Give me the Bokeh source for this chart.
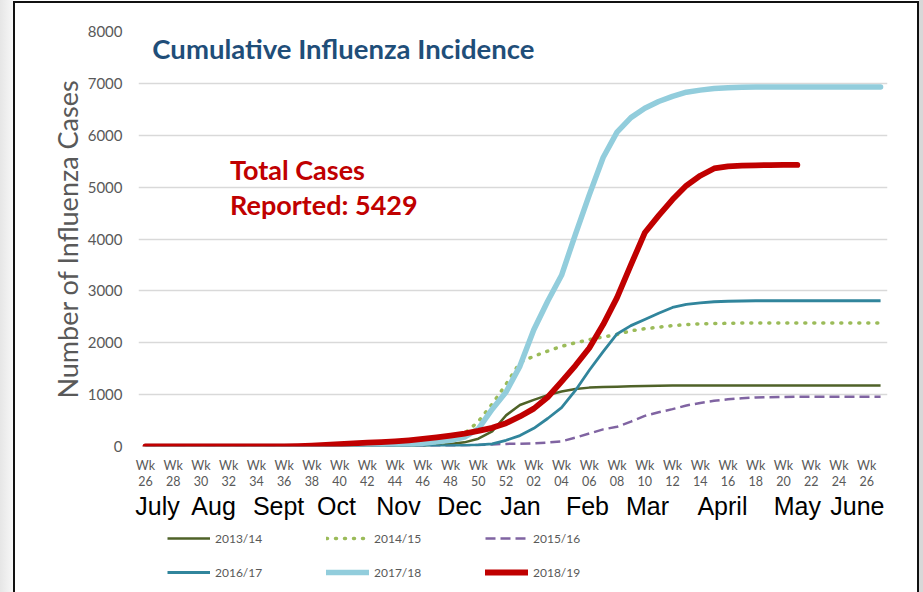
from bokeh.plotting import figure
from bokeh.models import (Range1d, FixedTicker, LinearAxis, Label, Legend,
                          LegendItem)
from bokeh.layouts import column
from bokeh.embed import file_html
from bokeh.resources import INLINE

# ---------------- data ----------------
weeks = list(range(54))  # week index from Wk 26 (season start)

s2013_14 = [0]*18 + [5, 10, 20, 35, 50, 80, 150, 290, 600, 800, 900, 990, 1060,
                     1110, 1135, 1145, 1150, 1160, 1165, 1170] + [1175]*16
s2014_15 = [0]*20 + [20, 50, 110, 250, 480, 820, 1200, 1620, 1740, 1840, 1930,
                     2000, 2060, 2110, 2160, 2230, 2270, 2300, 2330, 2350, 2365,
                     2370, 2375] + [2380]*11
s2015_16 = [0]*22 + [10, 20, 30, 40, 50, 55, 60, 75, 100, 170, 250, 330, 380,
                     480, 590, 660, 720, 790, 840, 880, 910, 930, 945, 950,
                     955] + [960]*7
s2016_17 = [0]*19 + [5, 8, 10, 15, 20, 30, 50, 120, 210, 350, 540, 750, 1080,
                     1470, 1830, 2170, 2330, 2450, 2570, 2680, 2740, 2770, 2790,
                     2800, 2805] + [2810]*10
s2017_18 = [0]*17 + [10, 20, 40, 60, 90, 120, 180, 340, 720, 1050, 1550, 2250,
                     2800, 3300, 4090, 4850, 5570, 6060, 6340, 6520, 6650, 6750,
                     6830, 6870, 6900, 6915, 6925] + [6930]*10
s2018_19 = [0]*11 + [5, 15, 30, 45, 60, 75, 85, 100, 120, 145, 175, 210, 250,
                     300, 360, 450, 580, 730, 950, 1250, 1560, 1900, 2350, 2870,
                     3500, 4120, 4450, 4760, 5030, 5220, 5360, 5400, 5415, 5420,
                     5425, 5428, 5429]

season_labels = ["2013/14", "2014/15", "2015/16", "2016/17", "2017/18", "2018/19"]
season_values = [s2013_14, s2014_15, s2015_16, s2016_17, s2017_18, s2018_19]

wk_pos = list(range(0, 53, 2))
wk_labels = ["26", "28", "30", "32", "34", "36", "38", "40", "42", "44", "46",
             "48", "50", "52", "02", "04", "06", "08", "10", "12", "14", "16",
             "18", "20", "22", "24", "26"]

month_pos = [0.87, 4.91, 9.6, 13.77, 18.24, 22.65, 27.04, 31.87, 36.2, 41.6,
             47.0, 51.33]
month_labels = ["July", "Aug", "Sept", "Oct", "Nov", "Dec", "Jan", "Feb", "Mar",
                "April", "May", "June"]

y_ticks = [0, 1000, 2000, 3000, 4000, 5000, 6000, 7000, 8000]

# line styles (per season)
styles = [
    dict(line_color="#4F6228", line_width=2.5, line_join="round"),
    dict(line_color="#9BBB59", line_width=3.5, line_dash="1 8",
         line_cap="round", line_join="round"),
    dict(line_color="#8064A2", line_width=2.5, line_dash="10 5"),
    dict(line_color="#31859C", line_width=2.8, line_join="round"),
    dict(line_color="#92CDDC", line_width=5.5, line_cap="round",
         line_join="round"),
    dict(line_color="#C00000", line_width=5.8, line_cap="round",
         line_join="round"),
]

# ---------------- main figure ----------------
p = figure(width=923, height=525, output_backend="svg", toolbar_location=None,
           x_range=Range1d(-0.5, 53.5), y_range=Range1d(0, 8000),
           min_border_left=138, min_border_right=36, min_border_top=31,
           min_border_bottom=79)
p.outline_line_color = None
p.background_fill_color = "white"
p.border_fill_alpha = 0

# grid
p.xgrid.grid_line_color = None
p.ygrid.grid_line_color = "#D9D9D9"
p.ygrid.grid_line_width = 1.3

# y axis
p.yaxis.ticker = FixedTicker(ticks=y_ticks)
p.yaxis.axis_line_color = None
p.yaxis.major_tick_line_color = None
p.yaxis.minor_tick_line_color = None
p.yaxis.major_label_text_font = "Lato"
p.yaxis.major_label_text_font_size = "15px"
p.yaxis.major_label_text_color = "#595959"
p.yaxis.major_label_standoff = 10
p.yaxis.axis_label = "Number of Influenza Cases"
p.yaxis.axis_label_text_font = "Lato"
p.yaxis.axis_label_text_font_size = "27px"
p.yaxis.axis_label_text_font_style = "normal"
p.yaxis.axis_label_text_color = "#595959"
p.yaxis.axis_label_standoff = 1

# x axis (weeks)
xa = p.xaxis[0]
xa.ticker = FixedTicker(ticks=wk_pos)
xa.major_label_overrides = {pos: "Wk\n" + lab for pos, lab in zip(wk_pos, wk_labels)}
xa.axis_line_color = None
xa.major_tick_line_color = None
xa.minor_tick_line_color = None
xa.major_label_text_font = "Lato"
xa.major_label_text_font_size = "12.5px"
xa.major_label_text_color = "#595959"
xa.major_label_text_line_height = 1.1
xa.major_label_standoff = 5

# month axis
ma = LinearAxis(ticker=FixedTicker(ticks=month_pos),
                major_label_overrides={pos: lab for pos, lab in zip(month_pos, month_labels)})
ma.axis_line_color = None
ma.major_tick_line_color = None
ma.minor_tick_line_color = None
ma.major_label_text_font = "Liberation Sans"
ma.major_label_text_font_size = "25px"
ma.major_label_text_color = "#000000"
ma.major_label_standoff = -7
p.add_layout(ma, "below")

# ---------------- series ----------------
for vals, st in zip(season_values, styles):
    p.line(weeks[:len(vals)], vals, **st)

# ---------------- texts ----------------
p.add_layout(Label(x=0.5, y=7680, text="Cumulative Influenza Incidence",
                   text_font="Lato", text_font_style="bold",
                   text_font_size="27.5px", text_color="#1F4E79",
                   text_baseline="middle"))
p.add_layout(Label(x=6.1, y=5340, text="Total Cases",
                   text_font="Lato", text_font_style="bold",
                   text_font_size="27px", text_color="#C00000",
                   text_baseline="middle"))
p.add_layout(Label(x=6.1, y=4665, text="Reported: %d" % s2018_19[-1],
                   text_font="Lato", text_font_style="bold",
                   text_font_size="27px", text_color="#C00000",
                   text_baseline="middle"))

# ---------------- legend strip (own small figure) ----------------
# same series drawn again, but the y range is chosen so that the lines lie
# outside this strip; only the legend entries show.
lg = figure(width=923, height=67, output_backend="svg", toolbar_location=None,
            x_axis_location=None, y_axis_location=None,
            x_range=Range1d(-0.5, 53.5), y_range=Range1d(-20000, -10000),
            min_border_left=0, min_border_right=0, min_border_top=0,
            min_border_bottom=0)
lg.outline_line_color = None
lg.background_fill_alpha = 0
lg.border_fill_alpha = 0
lg.grid.visible = False
legend_renderers = [lg.line(weeks[:len(vals)], vals, **st)
                    for vals, st in zip(season_values, styles)]
legend = Legend(items=[LegendItem(label=lab, renderers=[r])
                       for lab, r in zip(season_labels, legend_renderers)],
                orientation="horizontal", ncols=3,
                location=(29, 12),
                glyph_width=43, glyph_height=16, label_height=16,
                label_width=93, label_standoff=5, spacing=18,
                padding=0, margin=0, border_line_color=None,
                background_fill_alpha=0,
                label_text_font="Lato", label_text_font_size="12px",
                label_text_color="#595959")
lg.add_layout(legend, "center")

layout = column(p, lg, spacing=0)
# outer chart frame drawn as the page element's CSS background
layout.styles = {
    "background": (
        "linear-gradient(#111111, #111111) 13px 1px / 2px 591px no-repeat, "
        "linear-gradient(#111111, #111111) 917px 1px / 2px 591px no-repeat, "
        "linear-gradient(#111111, #111111) 13px 1px / 906px 2px no-repeat, "
        "linear-gradient(to right, #e6e6e6, #f7f7f7) 0px 0px / 13px 592px no-repeat, "
        "linear-gradient(#d8d8d8, #d8d8d8) 919px 0px / 4px 592px no-repeat, "
        "#ffffff"
    )
}

open("out.html", "w").write(file_html(layout, INLINE))
